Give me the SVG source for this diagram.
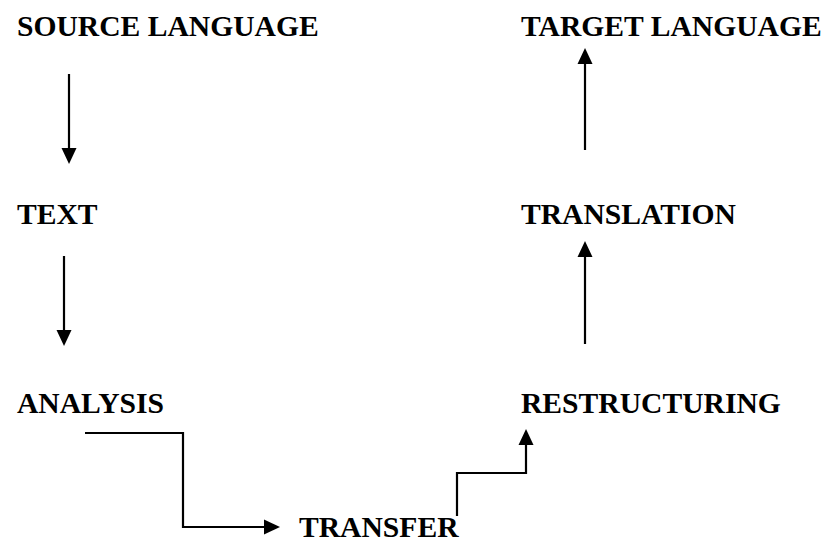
<svg xmlns="http://www.w3.org/2000/svg" width="829" height="540" viewBox="0 0 829 540">
<style>
.lbl{font-family:"Liberation Serif","Times New Roman",serif;font-weight:bold;font-size:29.6px;fill:#000}
.con{fill:none;stroke:#000;stroke-width:2.2;marker-end:url(#ah)}
</style>
<defs>
<marker id="ah" markerUnits="userSpaceOnUse" markerWidth="16" markerHeight="15" refX="8" refY="7.5" orient="auto" overflow="visible">
<path d="M0,0 L16,7.5 L0,15 Z" fill="#000"/>
</marker>
</defs>
<rect width="829" height="540" fill="#fff"/>
<g id="source"><text class="lbl" x="17" y="36">SOURCE LANGUAGE</text></g>
<g id="text"><text class="lbl" x="17" y="224">TEXT</text></g>
<g id="analysis"><text class="lbl" x="17" y="412.5">ANALYSIS</text></g>
<g id="transfer"><text class="lbl" x="299" y="537">TRANSFER</text></g>
<g id="restructuring"><text class="lbl" x="521" y="412.5">RESTRUCTURING</text></g>
<g id="translation"><text class="lbl" x="521" y="224">TRANSLATION</text></g>
<g id="target"><text class="lbl" x="521" y="36">TARGET LANGUAGE</text></g>
<g id="connectors">
<path class="con" d="M69,74 V156"/>
<path class="con" d="M64,256 V338"/>
<path class="con" d="M85,433 H183 V527 H272"/>
<path class="con" d="M457,516 V473 H526 V437"/>
<path class="con" d="M585,344 V249"/>
<path class="con" d="M585,150 V56"/>
</g>
</svg>
